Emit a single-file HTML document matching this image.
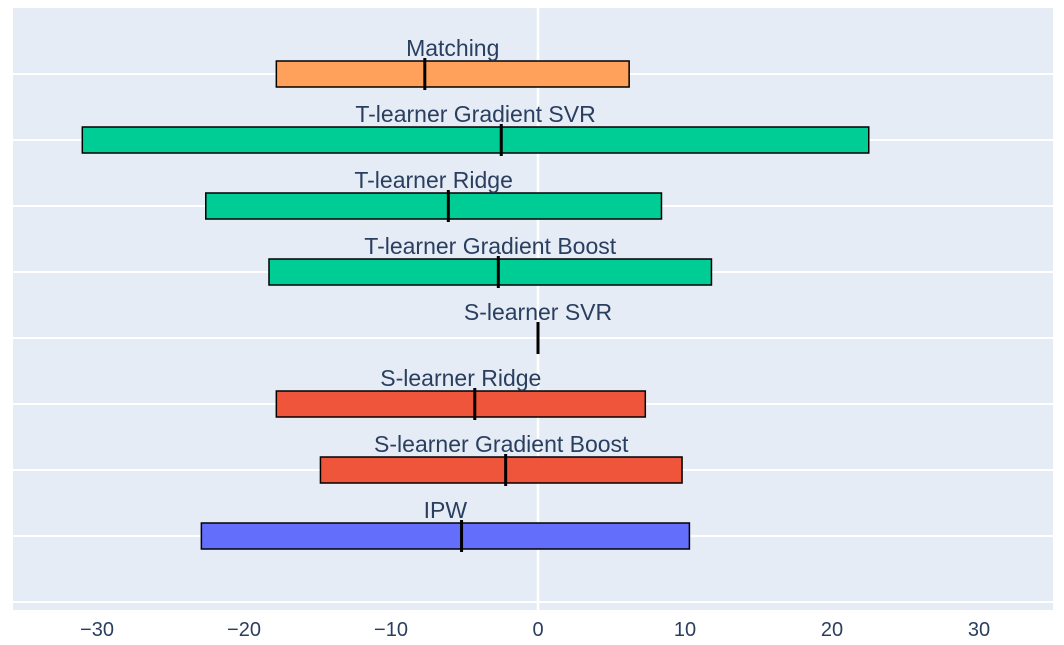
<!DOCTYPE html>
<html><head><meta charset="utf-8"><style>
body{margin:0;background:#fff;width:1064px;height:645px;overflow:hidden}
svg{display:block;font-family:"Liberation Sans",Arial,sans-serif}
</style></head><body>
<svg id="chart" width="1064" height="645">
<rect x="13" y="8" width="1040" height="602" fill="#E5ECF6"/>
<g id="grid"></g><g id="bars"></g><g id="ticks"></g>
</svg>
<script>
const methods=["Matching","T-learner Gradient SVR","T-learner Ridge","T-learner Gradient Boost","S-learner SVR","S-learner Ridge","S-learner Gradient Boost","IPW"];
const lowers=[-17.8,-31.0,-22.6,-18.3,0,-17.8,-14.8,-22.9];
const uppers=[6.2,22.5,8.4,11.8,0,7.3,9.8,10.3];
const points=[-7.7,-2.5,-6.1,-2.7,0,-4.3,-2.2,-5.2];
const colors=["#FFA15A","#00CC96","#00CC96","#00CC96","#00CC96","#EF553B","#EF553B","#636EFA"];
const xTicks=[-30,-20,-10,0,10,20,30];
const ns="http://www.w3.org/2000/svg";
const X=v=>538+v*14.7;
const Y=i=>74+i*66;
function mk(t,a,p){const e=document.createElementNS(ns,t);for(const k in a)e.setAttribute(k,a[k]);p.appendChild(e);return e;}
const grid=document.getElementById('grid'),bars=document.getElementById('bars'),ticks=document.getElementById('ticks');
for(let i=0;i<=methods.length;i++){
  const g=mk('line',{x1:13,x2:1053,y1:Y(i),y2:Y(i),stroke:'#fff','stroke-width':2},grid);
  
  
}
xTicks.forEach(t=>{
  if(t===0){
    const l=mk('line',{x1:X(t),x2:X(t),y1:8,y2:610,stroke:'#fff','stroke-width':2.5},grid);
    
    
  }
  const tx=mk('text',{x:X(t),y:636,'text-anchor':'middle','font-size':20,fill:'#2a3f5f'},ticks);
  tx.textContent=(t<0?'\u2212'+(-t):String(t));
  
  
});
methods.forEach((m,i)=>{
  const y=Y(i);
  if(uppers[i]>lowers[i]){
    const r=mk('rect',{x:X(lowers[i]),y:y-13,width:X(uppers[i])-X(lowers[i]),height:26,fill:colors[i],stroke:'#000','stroke-width':1.5},bars);
    
    
  }
  const p=mk('line',{x1:X(points[i]),x2:X(points[i]),y1:y-16,y2:y+16,stroke:'#000','stroke-width':3},bars);
  
  
  const c=(X(lowers[i])+X(uppers[i]))/2;
  const t=mk('text',{x:c,y:y-18,'text-anchor':'middle','font-size':23,fill:'#2a3f5f'},bars);
  t.textContent=m;
  
  
});
</script>
</body></html>
